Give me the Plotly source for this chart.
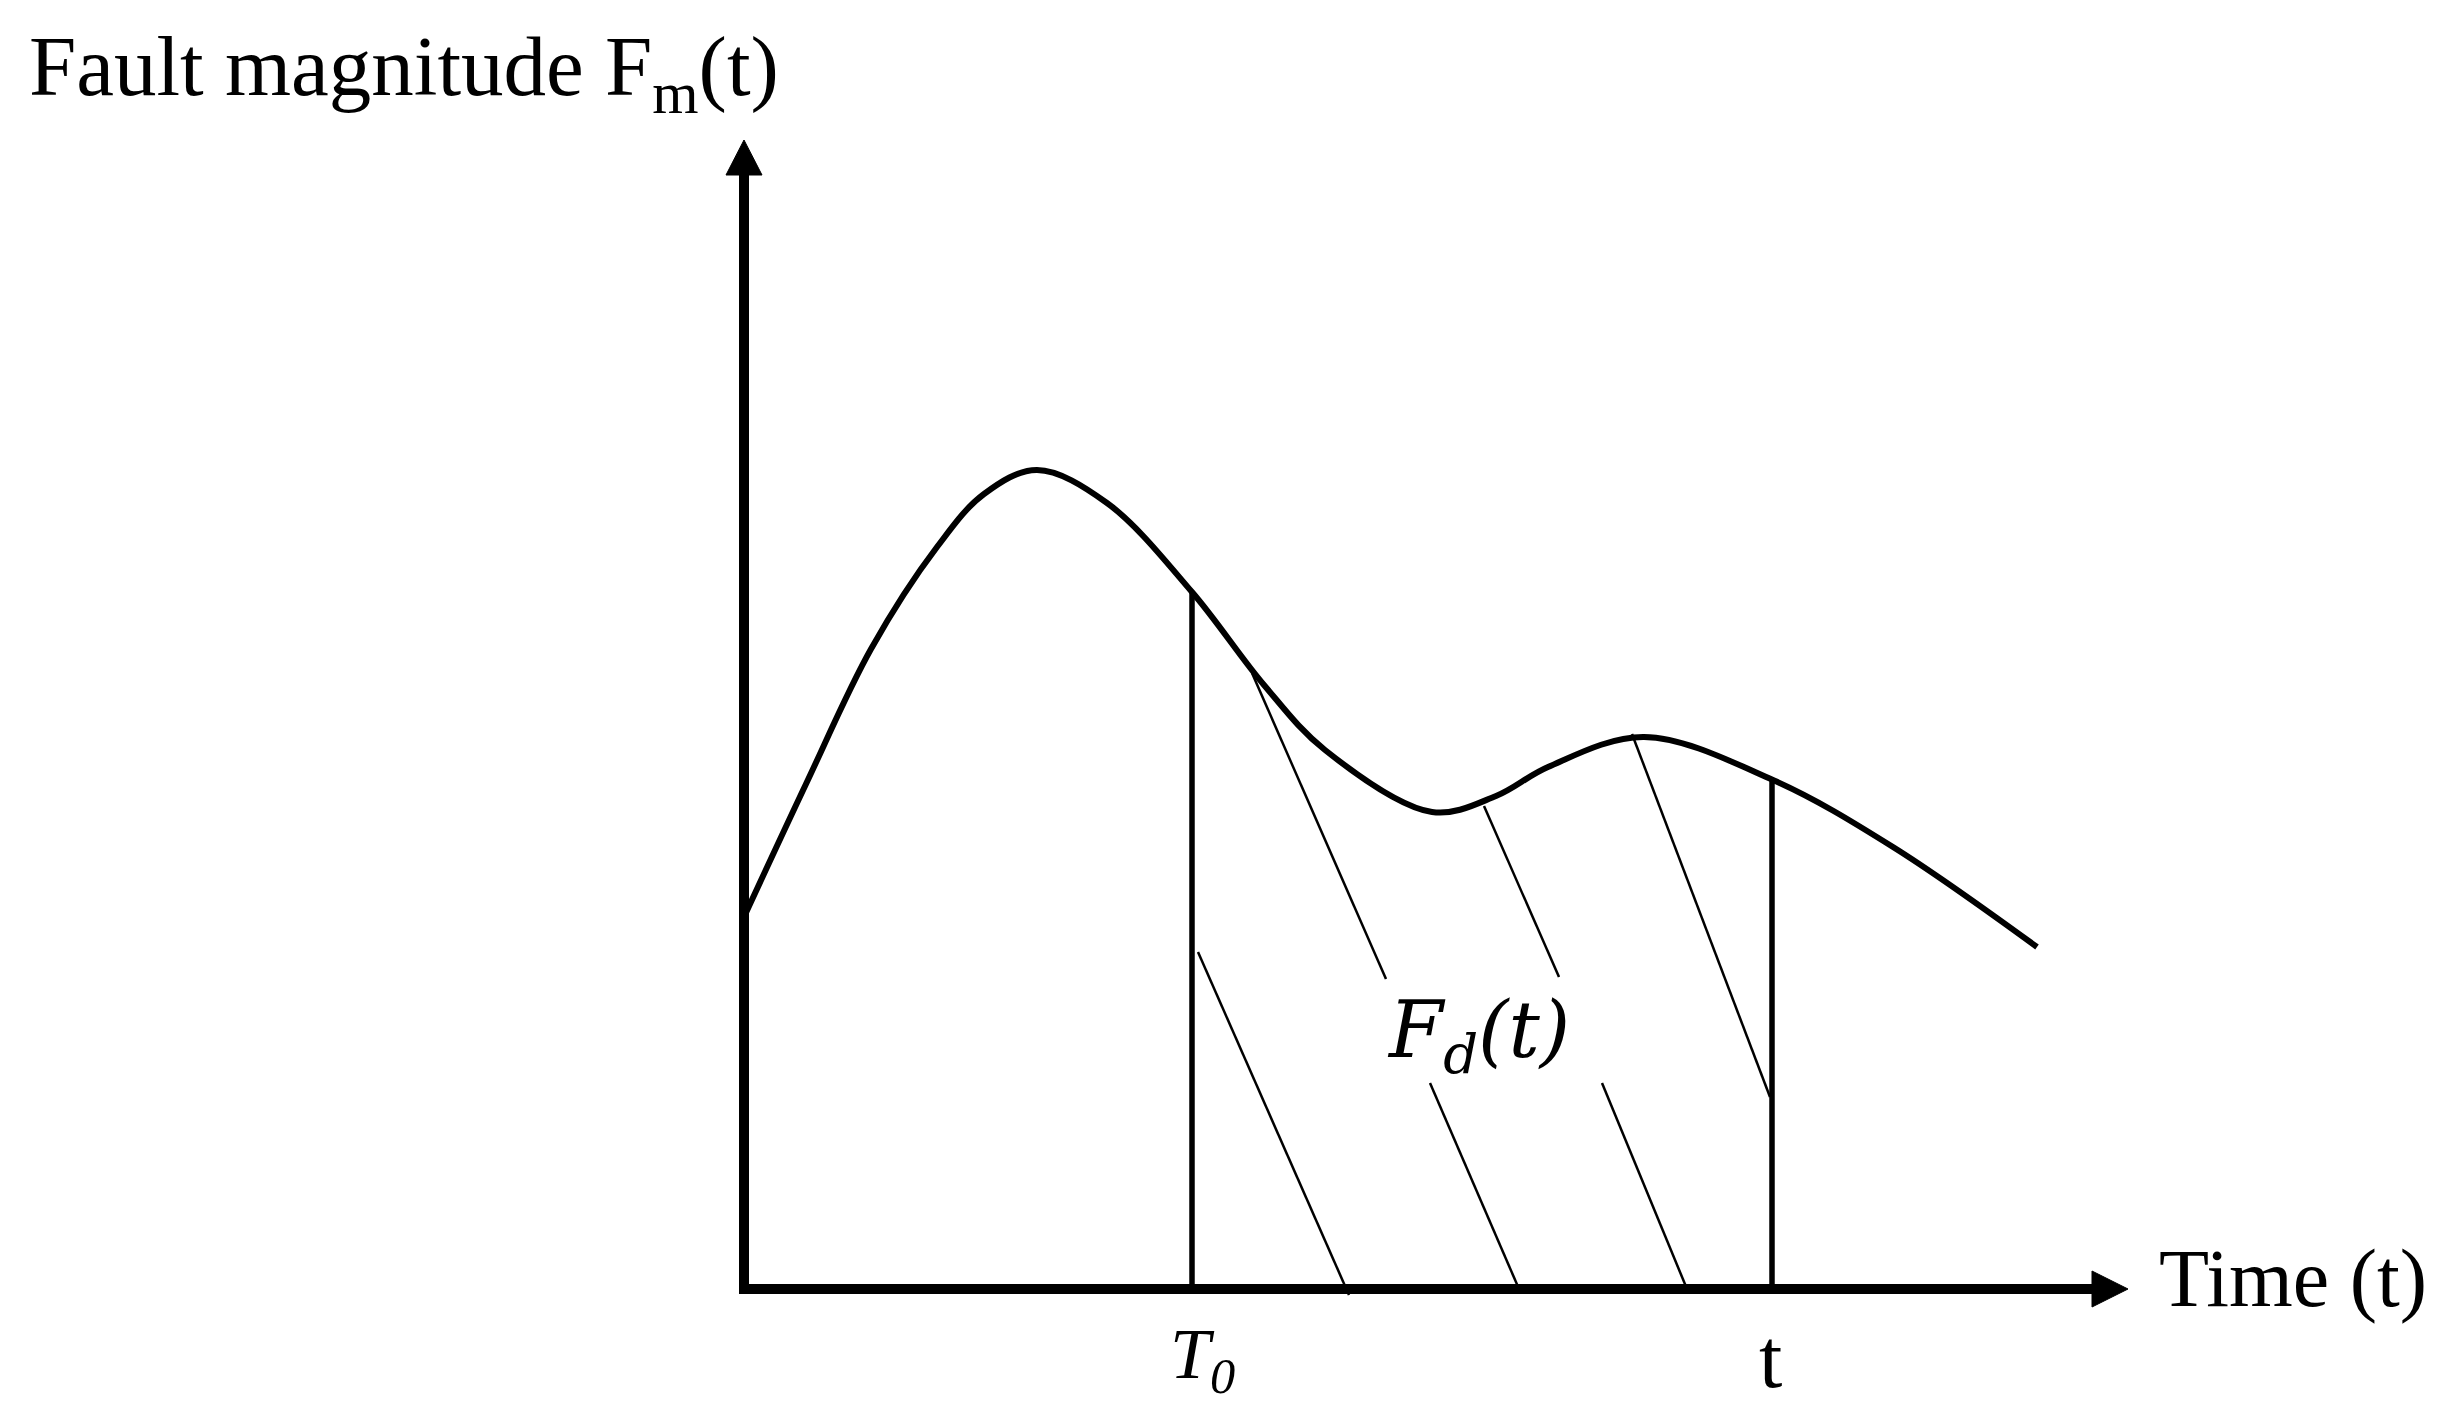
import plotly.graph_objects as go

# curve of the fault magnitude (time, magnitude)
t_curve = [0.0, 0.62, 1.27, 1.93, 2.40, 2.93, 3.63, 4.48, 5.20, 5.81,
           6.88, 7.52, 8.04, 9.00, 10.29, 11.49, 12.93]
f_curve = [3.72, 5.05, 6.40, 7.42, 7.95, 8.19, 7.86, 6.97, 6.04, 5.39,
           4.77, 4.93, 5.22, 5.52, 5.09, 4.42, 3.42]

# bounds of the shaded area
T0 = 4.48
f_T0 = 6.97
t_end = 10.28
f_t_end = 5.09

# hatch segments (start, end)
hatch_x0 = [5.08, 7.40, 8.88, 4.54, 6.86, 8.58]
hatch_y0 = [6.16, 4.83, 5.55, 3.37, 2.06, 2.06]
hatch_x1 = [6.42, 8.15, 10.26, 6.05, 7.75, 9.43]
hatch_y1 = [3.10, 3.12, 1.92, -0.06, 0.0, 0.0]

# axis extents
x_axis_end = 13.48
y_axis_end = 11.14
x_tip = 13.84
y_tip = 11.49
head = 0.18

FONT = "Liberation Serif"

fig = go.Figure()

# hatch lines
hx, hy = [], []
for a, b, c, d in zip(hatch_x0, hatch_y0, hatch_x1, hatch_y1):
    hx += [a, c, None]
    hy += [b, d, None]
fig.add_trace(go.Scatter(x=hx, y=hy, mode="lines",
                         line=dict(color="black", width=2.5)))

# vertical bounds
fig.add_trace(go.Scatter(x=[T0, T0, None, t_end, t_end],
                         y=[0, f_T0, None, 0, f_t_end], mode="lines",
                         line=dict(color="black", width=5.5)))

# main curve
fig.add_trace(go.Scatter(x=t_curve, y=f_curve, mode="lines",
                         line=dict(color="black", width=6, shape="spline", smoothing=1.0)))

# axes
fig.add_trace(go.Scatter(x=[0, 0, None, -0.05, x_axis_end],
                         y=[y_axis_end, -0.05, None, 0, 0], mode="lines",
                         line=dict(color="black", width=10)))
fig.add_trace(go.Scatter(x=[-head, 0, head, -head], y=[y_axis_end, y_tip, y_axis_end, y_axis_end],
                         mode="lines", fill="toself", fillcolor="black",
                         line=dict(color="black", width=1)))
fig.add_trace(go.Scatter(x=[x_axis_end, x_tip, x_axis_end, x_axis_end], y=[head, 0, -head, head],
                         mode="lines", fill="toself", fillcolor="black",
                         line=dict(color="black", width=1)))

annotations = [
    dict(x=-7.17, y=12.17, text="Fault magnitude F<sub>m</sub>(t)", xanchor="left", yanchor="middle",
         font=dict(family=FONT, size=85, color="black")),
    dict(x=14.13, y=0.11, text="Time (t)", xanchor="left", yanchor="middle",
         font=dict(family=FONT, size=82, color="black")),
    dict(x=T0 + 0.1, y=-0.70, text="<i>T<sub>0</sub></i>", xanchor="center", yanchor="middle",
         font=dict(family=FONT, size=72, color="black")),
    dict(x=t_end - 0.02, y=-0.69, text="t", xanchor="center", yanchor="middle",
         font=dict(family=FONT, size=84, color="black")),
    dict(x=7.34, y=2.54, text="<i>F<sub>d</sub>(t)</i>", xanchor="center", yanchor="middle",
         font=dict(family="DejaVu Serif", size=78, color="black")),
]
for a in annotations:
    a.update(xref="x", yref="y", showarrow=False)

fig.update_layout(
    width=2444, height=1419,
    margin=dict(l=0, r=0, t=0, b=0),
    plot_bgcolor="white", paper_bgcolor="white",
    showlegend=False,
    annotations=annotations,
    # ranges shifted by 8 px to absorb the default page margin
    xaxis=dict(range=[-7.36, 17.08], visible=False, fixedrange=True),
    yaxis=dict(range=[-1.38, 12.81], visible=False, fixedrange=True),
)

fig.write_html("out.html")
